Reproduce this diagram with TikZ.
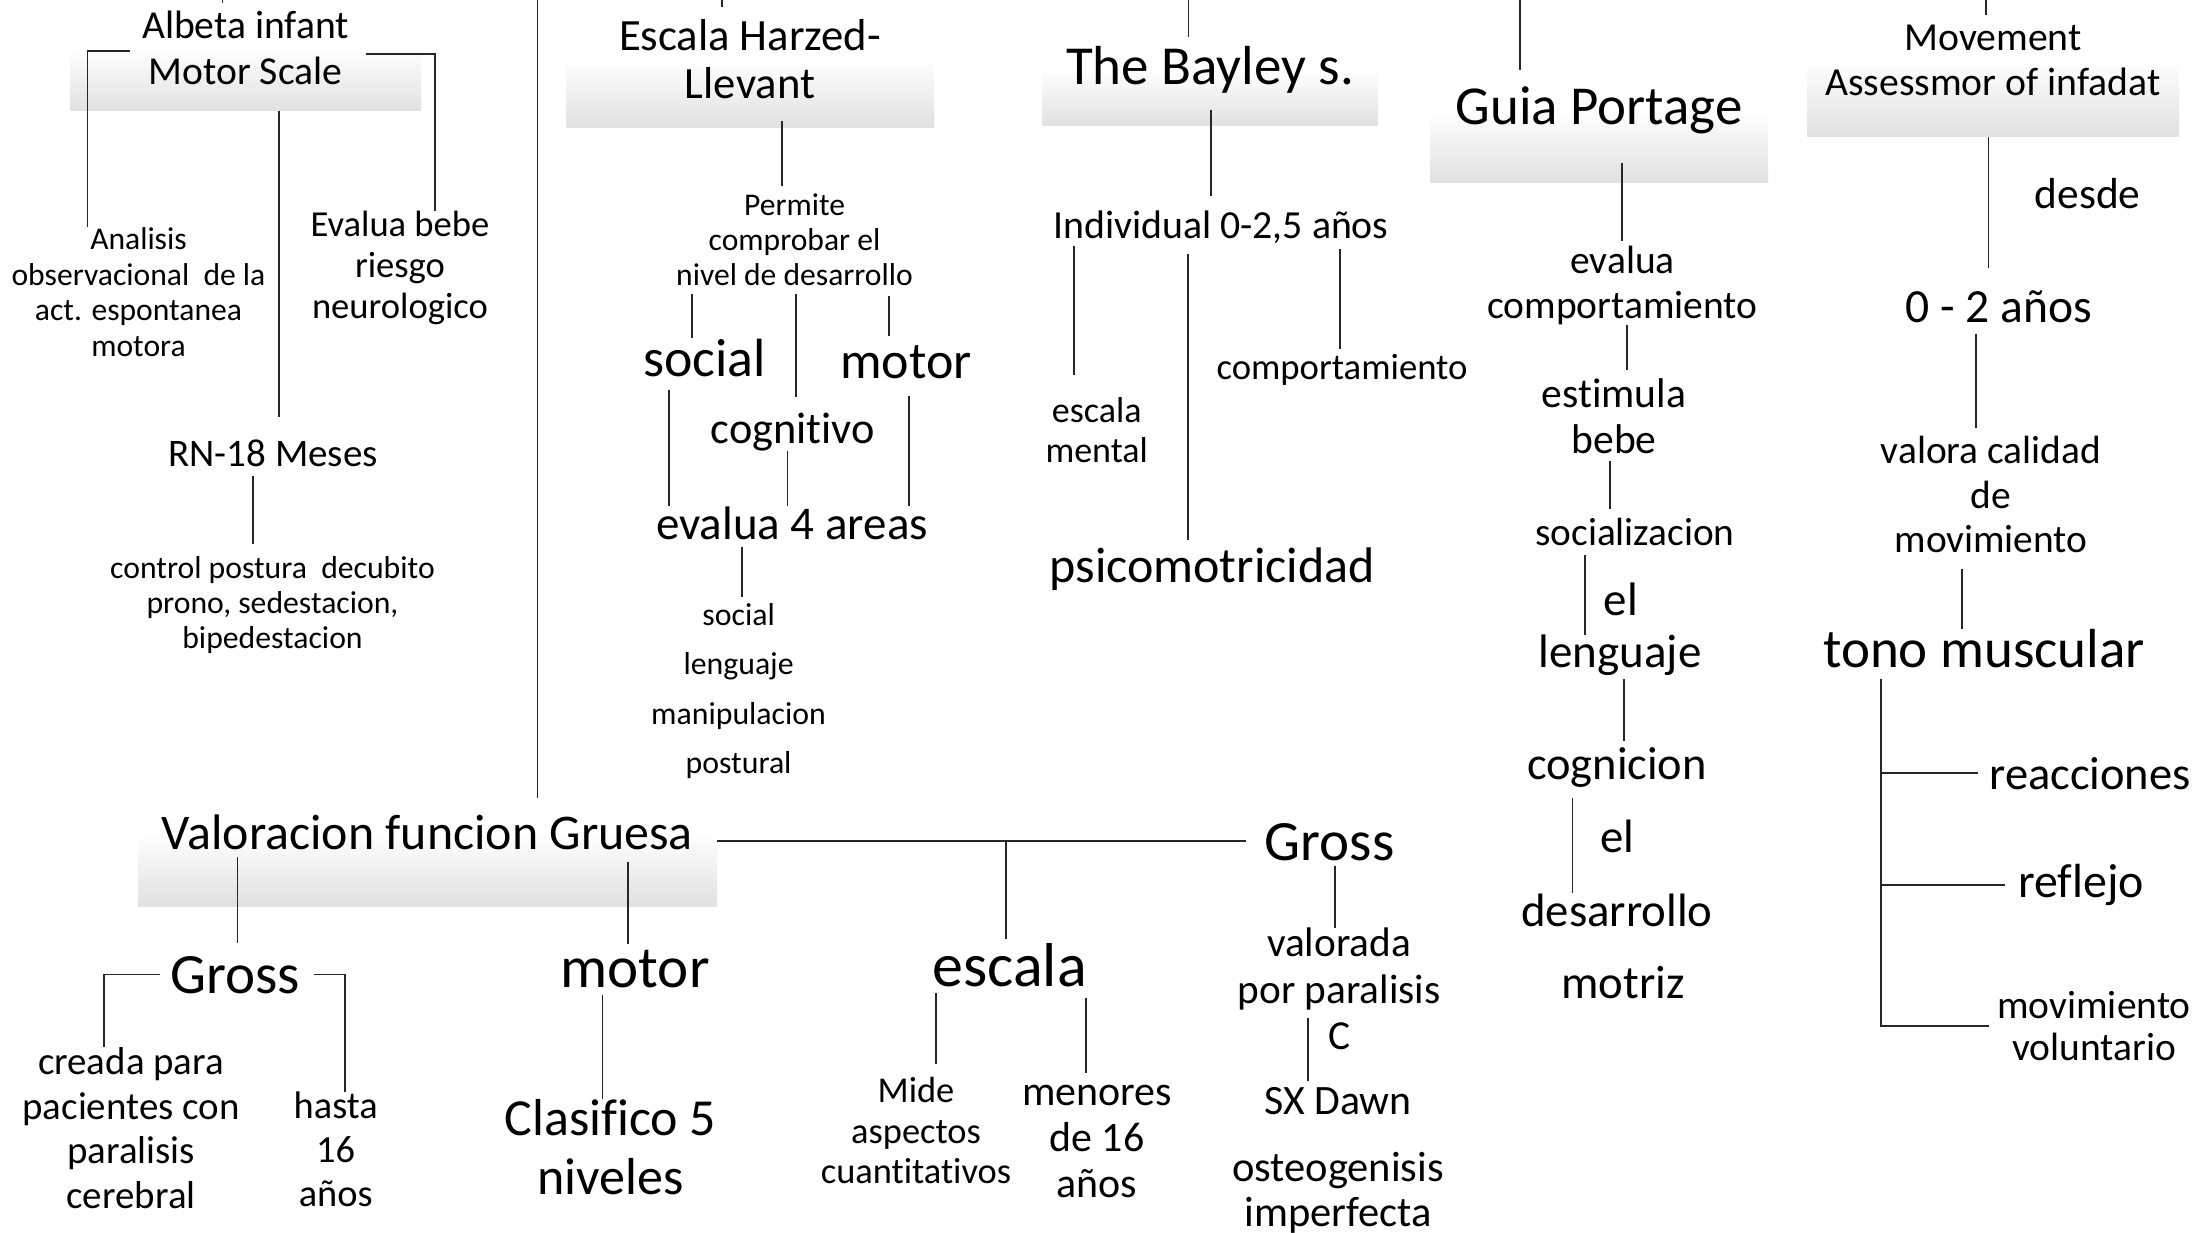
\documentclass[tikz,border=0pt]{standalone}
\usepackage{fontspec}
\setmainfont{Carlito}[Ligatures=NoCommon]

\newcommand\fs[2]{\fontsize{#1}{#2}\selectfont}

\begin{document}
\begin{tikzpicture}[y=-1pt,x=1pt,
	box/.style={inner sep=0pt, align=center, top color=white, bottom color=black!12, middle color=white},
	lbl/.style={inner sep=0pt, align=center},
	conn/.style={draw=black!85, line width=1.4pt}]
	\useasboundingbox (0,0) rectangle (2203,1233);
	\fill[white] (0,0) rectangle (2203,1233);

	% boxes
	\node[box, minimum width=351, minimum height=126.4, font=\fs{39.6}{46.7}] (alb) at (245.5,47.8) {Albeta infant\\Motor Scale};
	\node[box, minimum width=368, minimum height=137.2, font=\fs{44.7}{48}] (harz) at (750,59.4) {Escala Harzed-\\Llevant};
	\node[box, minimum width=335.5, minimum height=113.2, font=\fs{55}{60}] (bay) at (1210,69.4) {The Bayley s.};
	\node[box, minimum width=338, minimum height=145.6, font=\fs{54.9}{60}] (guia) at (1599,110.2) {Guia Portage};
	\node[box, minimum width=372, minimum height=154, font=\fs{39.7}{45}] (amov) at (1993,60) {Movement\\Assessmor of infadat};
	\node[box, minimum width=579, minimum height=147, font=\fs{49.9}{55}] (vfg) at (427.5,832.5) {Valoracion funcion Gruesa};

	% Albeta
	\node[lbl, font=\fs{31.6}{35.5}] (ana) at (138.5,292) {Analisis\\observacional\ \ de la\\act. espontanea\\motora};
	\node[lbl, font=\fs{36.6}{41}] (eva) at (400,268) {Evalua bebe\\riesgo\\neurologico};
	\node[lbl, anchor=base, font=\fs{39}{39}] (rn) at (273,466) {RN-18 Meses};
	\node[lbl, font=\fs{31.7}{35}] (ctrl) at (272.5,605) {control postura\ \ decubito\\prono, sedestacion,\\bipedestacion};

	% Valoracion
	\node[lbl, anchor=base, font=\fs{57}{57}] (grossL) at (235,993) {Gross};
	\node[lbl, anchor=base, font=\fs{57}{57}] (grossR) at (1329.5,860) {Gross};
	\node[lbl, font=\fs{38.9}{44.5}] (cre) at (131,1128) {creada para\\pacientes con\\paralisis\\cerebral};
	\node[lbl, font=\fs{38.4}{44}] (has) at (335.7,1149.5) {hasta\\16\\años};
	\node[lbl, anchor=base, font=\fs{59}{59}] (motB) at (635,987) {motor};
	\node[lbl, font=\fs{52}{59}] (cla) at (610.6,1147.3) {Clasifico 5\\niveles};
	\node[lbl, anchor=base, font=\fs{62}{62}] (escB) at (1009.6,986) {escala};
	\node[lbl, font=\fs{36.4}{40.5}] (mide) at (916,1130.5) {Mide\\aspectos\\cuantitativos};
	\node[lbl, font=\fs{41.9}{46}] (men) at (1097,1141.5) {menores\\de 16\\años};
	\node[lbl, font=\fs{41.3}{46.5}] (valo) at (1339,989) {valorada\\por paralisis\\C};
	\node[lbl, anchor=base, font=\fs{41.8}{41.8}] (sx) at (1338,1114) {SX Dawn};
	\node[lbl, font=\fs{42.5}{45}] (ost) at (1338,1192.5) {osteogenisis\\imperfecta};

	% Harzed
	\node[lbl, font=\fs{31.6}{35}] (perm) at (794.5,240) {Permite\\comprobar el\\nivel de desarrollo};
	\node[lbl, anchor=base, font=\fs{53.8}{53.8}] (soc) at (704.6,376) {social};
	\node[lbl, anchor=base, font=\fs{52}{52}] (motH) at (906,378) {motor};
	\node[lbl, anchor=base, font=\fs{44.3}{44.3}] (cog) at (792.6,443) {cognitivo};
	\node[lbl, anchor=base, font=\fs{47}{47}] (ev4) at (792,539) {evalua 4 areas};
	\node[lbl, font=\fs{31.8}{49.3}] (areas) at (738.6,691) {social\\lenguaje\\manipulacion\\postural};

	% Bayley
	\node[lbl, anchor=base, font=\fs{39.8}{39.8}] (ind) at (1221,239) {Individual 0-2,5 años};
	\node[lbl, font=\fs{36}{40}] (escm) at (1096.7,430) {escala\\mental};
	\node[lbl, anchor=base, font=\fs{36.7}{36.7}] (comp) at (1342,379.5) {comportamiento};
	\node[lbl, anchor=base, font=\fs{50}{50}] (psi) at (1212,582) {psicomotricidad};

	% Guia
	\node[lbl, font=\fs{39.5}{45}] (evc) at (1622.5,285) {evalua\\comportamiento};
	\node[lbl, font=\fs{41.6}{46}] (estb) at (1614,416.5) {estimula\\bebe};
	\node[lbl, anchor=base, font=\fs{39.3}{39.3}] (socz) at (1635,545) {socializacion};
	\node[lbl, anchor=base, font=\fs{47}{47}] (el1) at (1621,615) {el};
	\node[lbl, anchor=base, font=\fs{47}{47}] (leng) at (1620,667.5) {lenguaje};
	\node[lbl, anchor=base, font=\fs{46.4}{46.4}] (cogn) at (1617,779) {cognicion};
	\node[lbl, anchor=base, font=\fs{46.8}{46.8}] (el2) at (1617.6,852) {el};
	\node[lbl, anchor=base, font=\fs{46.8}{46.8}] (des) at (1617,926) {desarrollo};
	\node[lbl, anchor=base, font=\fs{46.8}{46.8}] (motz) at (1623,998.5) {motriz};

	% Movement
	\node[lbl, anchor=base, font=\fs{43.4}{43.4}] (desde) at (2087.5,209) {desde};
	\node[lbl, anchor=base, font=\fs{47.6}{47.6}] (edad) at (1999,323) {0 - 2 años};
	\node[lbl, font=\fs{39.4}{44.5}] (valc) at (1991,494.5) {valora calidad\\de\\movimiento};
	\node[lbl, anchor=base, font=\fs{55}{55}] (tono) at (1984,667) {tono muscular};
	\node[lbl, anchor=base, font=\fs{46.5}{46.5}] (reac) at (2090,789) {reacciones};
	\node[lbl, anchor=base, font=\fs{47.9}{47.9}] (refl) at (2081,897.5) {reflejo};
	\node[lbl, font=\fs{39.5}{42.4}] (movv) at (2094,1026) {movimiento\\voluntario};

	% free ends
	\coordinate (albIn) at (222.5,0);
	\coordinate (harzIn) at (722,0);
	\coordinate (bayIn) at (1188.5,0);
	\coordinate (guiaIn) at (1520,0);
	\coordinate (amovIn) at (1986,0);
	\coordinate (vfgIn) at (537.5,0);
	\coordinate (albL) at (130,51);
	\coordinate (albR) at (366,54);
	\coordinate (jn) at (1006,841);

	\draw[conn] (albIn) -- ++(0,3);
	\draw[conn] (harzIn) -- ++(0,7);
	\draw[conn] (bayIn) -- ++(0,37);
	\draw[conn] (guiaIn) -- ++(0,70);
	\draw[conn] (amovIn) -- ++(0,15);
	\draw[conn, shorten >=-39pt] (vfgIn) -- (vfg.north -| vfgIn);

	% Albeta
	\draw[conn] (albL) -| (ana.north -| 87.5,0);
	\draw[conn] (albR) -| (eva.north -| 435,0);
	\draw[conn, shorten >=22pt] (alb.south -| 279,0) -- (rn.north -| 279,0);
	\draw[conn, shorten <=10pt, shorten >=12pt] (rn.south -| 253,0) -- (ctrl.north -| 253,0);

	% Valoracion
	\draw[conn, shorten <=-49pt, shorten >=13pt] (vfg.south -| 237.5,0) -- (grossL.north -| 237.5,0);
	\draw[conn, shorten <=-44pt, shorten >=6pt] (vfg.south -| 628,0) -- (motB.north -| 628,0);
	\draw[conn, shorten >=19pt] (vfg.east |- jn) -- (grossR.west |- jn);
	\draw[conn, shorten >=4pt] (jn) -- (escB.north -| jn);
	\draw[conn, shorten <=10pt] (grossL.west) -| (cre.north -| 104,0);
	\draw[conn, shorten <=14pt] (grossL.east) -| (has.north -| 345,0);
	\draw[conn, shorten <=7pt] (motB.south -| 602.5,0) -- (cla.north -| 602.5,0);
	\draw[conn, shorten <=6pt, shorten >=13pt] (escB.south -| 936,0) -- (mide.north -| 936,0);
	\draw[conn, shorten <=11pt, shorten >=12pt] (escB.south -| 1086,0) -- (men.north -| 1086,0);
	\draw[conn, shorten <=5pt] (grossR.south -| 1335,0) -- (valo.north -| 1335,0);
	\draw[conn, shorten <=-32pt, shorten >=6pt] (valo.south -| 1308,0) -- (sx.north -| 1308,0);

	% Harzed
	\draw[conn, shorten <=-7pt, shorten >=8pt] (harz.south -| 782,0) -- (perm.north -| 782,0);
	\draw[conn, shorten <=8pt] (perm.south -| 692,0) -- (soc.north -| 692,0);
	\draw[conn, shorten <=8pt, shorten >=15pt] (perm.south -| 796,0) -- (cog.north -| 796,0);
	\draw[conn, shorten <=10pt, shorten >=9pt] (perm.south -| 889,0) -- (motH.north -| 889,0);
	\draw[conn, shorten <=13pt] (soc.south -| 669,0) -- (ev4.north -| 669,0);
	\draw[conn] (cog.south -| 787.6,0) -- (ev4.north -| 787.6,0);
	\draw[conn, shorten <=17pt] (motH.south -| 909,0) -- (ev4.north -| 909,0);
	\draw[conn, shorten <=7pt, shorten >=6pt] (ev4.south -| 742,0) -- (areas.north -| 742,0);

	% Bayley
	\draw[conn, shorten <=-16pt, shorten >=15pt] (bay.south -| 1211,0) -- (ind.north -| 1211,0);
	\draw[conn, shorten <=2pt, shorten >=22pt] (ind.south -| 1074,0) -- (escm.north -| 1074,0);
	\draw[conn, shorten <=10pt, shorten >=7pt] (ind.south -| 1188,0) -- (psi.north -| 1188,0);
	\draw[conn, shorten <=5pt, shorten >=5pt] (ind.south -| 1340,0) -- (comp.north -| 1340,0);

	% Guia
	\draw[conn, shorten <=-20pt, shorten >=4pt] (guia.south -| 1622,0) -- (evc.north -| 1622,0);
	\draw[conn, shorten >=9pt] (evc.south -| 1627,0) -- (estb.north -| 1627,0);
	\draw[conn, shorten <=7pt, shorten >=9pt] (estb.south -| 1610,0) -- (socz.north -| 1610,0);
	\draw[conn, shorten <=10pt] (socz.south -| 1585,0) -- (leng.north -| 1585,0);
	\draw[conn, shorten <=3pt, shorten >=6pt] (leng.south -| 1624,0) -- (cogn.north -| 1624,0);
	\draw[conn, shorten <=11pt] (cogn.south -| 1572.5,0) -- (des.north -| 1572.5,0);

	% Movement
	\draw[conn, shorten >=23pt] (amov.south -| 1988.5,0) -- (edad.north -| 1988.5,0);
	\draw[conn, shorten <=10pt, shorten >=8pt] (edad.south -| 1976,0) -- (valc.north -| 1976,0);
	\draw[conn, shorten <=16pt] (valc.south -| 1962,0) -- (tono.north -| 1962,0);
	\draw[conn, shorten <=11pt, shorten >=11pt] (tono.south -| 1881,0) |- (reac.west);
	\draw[conn, shorten <=11pt, shorten >=13pt] (tono.south -| 1881,0) |- (refl.west);
	\draw[conn, shorten <=11pt, shorten >=8pt] (tono.south -| 1881,0) |- (movv.west);
\end{tikzpicture}
\end{document}
